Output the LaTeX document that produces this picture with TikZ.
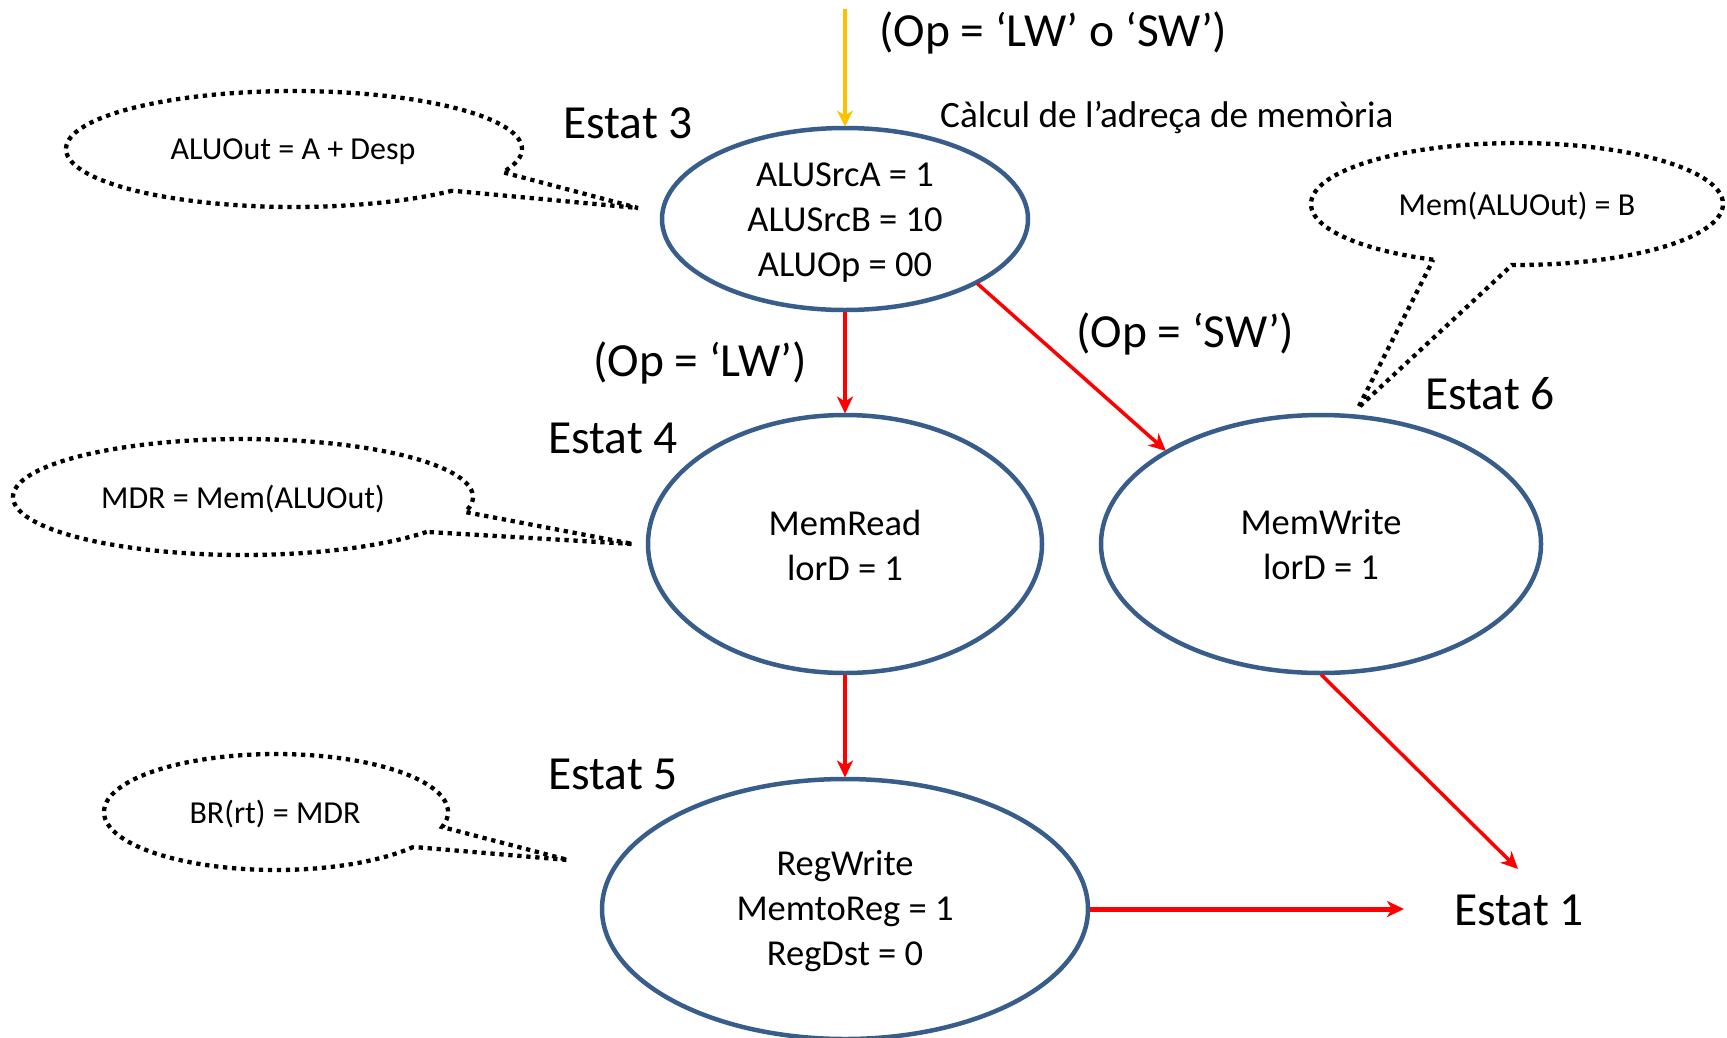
\documentclass[tikz,border=0pt]{standalone}
\usepackage{fontspec}
\setmainfont{Carlito}
\usetikzlibrary{shapes.geometric,arrows.meta,calc}
\definecolor{stateblue}{HTML}{385D8A}
\definecolor{arrred}{HTML}{FF0000}
\definecolor{arryellow}{HTML}{FFC000}
\tikzset{
 stateshape/.style={ellipse, draw=stateblue, line width=4.5pt, inner sep=0pt, outer sep=1.5pt},
 statetext/.style={align=center, font=\fontsize{36.5}{45}\selectfont, inner sep=0pt},
 biglabel/.style={font=\fontsize{47.5}{56}\selectfont, anchor=west, inner sep=0pt},
 midlabel/.style={font=\fontsize{37.2}{45}\selectfont, anchor=west, inner sep=0pt},
 calltext/.style={font=\fontsize{32}{38}\selectfont, inner sep=0pt},
 callshape/.style={draw=black, line width=4.3pt, dash pattern=on 4.3pt off 4.7pt},
 trans/.style={draw=arrred, line width=3.5pt, -{Stealth[length=17pt,width=16pt,inset=5pt]}},
 entry/.style={draw=arryellow, line width=4pt, -{Stealth[length=16pt,width=16pt,inset=5pt]}},
}
\begin{document}
\begin{tikzpicture}[x=1pt,y=-1pt]
\useasboundingbox (0,0) rectangle (1727,1037);

% states
\node[stateshape, minimum width=366pt, minimum height=182pt] (e3) at (845,219) {};
\node[statetext] (t3) at ($(e3.center)+(0,4)$) {ALUSrcA = 1\\ALUSrcB = 10\\ALUOp = 00};
\node[stateshape, minimum width=394pt, minimum height=258pt] (e4) at (845,544) {};
\node[statetext] (t4) at ($(e4.center)+(0,1)$) {MemRead\\lorD = 1};
\node[stateshape, minimum width=440pt, minimum height=258pt] (e6) at (1321,544) {};
\node[statetext] (t6) at ($(e6.center)+(0,1)$) {MemWrite\\lorD = 1};
\node[stateshape, minimum width=486pt, minimum height=260pt] (e5) at (845,909) {};
\node[statetext] (t5) at ($(e5.center)+(0,2)$) {RegWrite\\MemtoReg = 1\\RegDst = 0};

% labels
\node[biglabel] (lop) at (879,33) {(Op = ‘LW’ o ‘SW’)};
\node[midlabel] (lcalc) at (940,118) {Càlcul de l’adreça de memòria};
\node[biglabel] (s3) at (563,123) {Estat 3};
\node[biglabel] (s4) at (548,438) {Estat 4};
\node[biglabel] (s5) at (548,774) {Estat 5};
\node[biglabel] (s6) at (1425,394) {Estat 6};
\node[biglabel] (s1) at (1454,910) {Estat 1};
\node[biglabel] (llw) at (593,363) {(Op = ‘LW’)};
\node[biglabel] (lsw) at (1076,334) {(Op = ‘SW’)};

% callouts
\draw[callshape] plot[domain=46:383.6, samples=140] ({294+228*cos(\x)},{149+58*sin(\x)}) -- (638,208) -- cycle;
\node[calltext] (c1) at (293,152) {ALUOut = A + Desp};
\draw[callshape] plot[domain=37:375, samples=140] ({243+230*cos(\x)},{497+58*sin(\x)}) -- (633,544) -- cycle;
\node[calltext] (c2) at (243,499) {MDR = Mem(ALUOut)};
\draw[callshape] plot[domain=37:375, samples=140] ({276+172*cos(\x)},{812+58*sin(\x)}) -- (568,860) -- cycle;
\node[calltext] (c3) at (275,814) {BR(rt) = MDR};
\draw[callshape] plot[domain=114:451.4, samples=140] ({1517+206*cos(\x)},{204+61*sin(\x)}) -- (1358,408) -- cycle;
\node[calltext] (c4) at (1517,206) {Mem(ALUOut) = B};

% connectors
\coordinate (entrystart) at (845,9);
\coordinate (s1top) at (1518,869);
\coordinate (s1left) at (1404,909);
\draw[entry] (entrystart) -- (e3.north);
\draw[trans] (e3.south) -- (e4.north);
\draw[trans] (e3.-26.7) -- (e6.149.6);
\draw[trans] (e4.south) -- (e5.north);
\draw[trans] (e6.south) -- (s1top);
\draw[trans, line width=5pt] (e5.east) -- (s1left);
\end{tikzpicture}
\end{document}
